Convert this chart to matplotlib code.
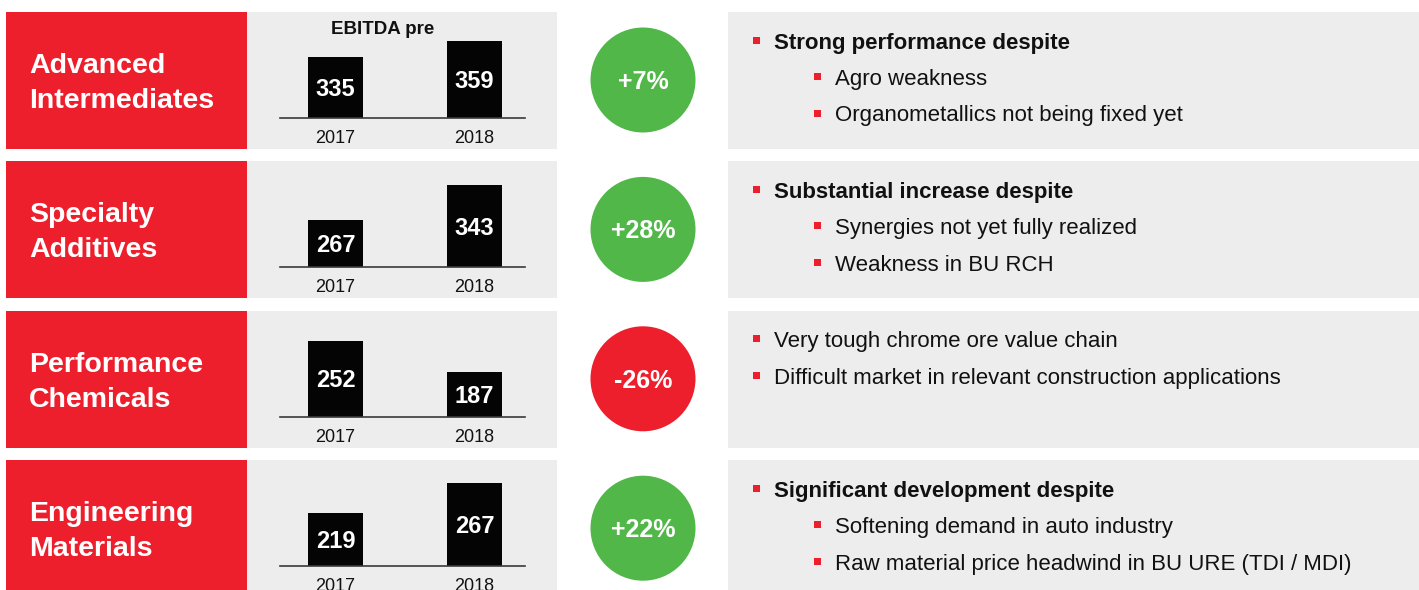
import matplotlib.pyplot as plt
from matplotlib.patches import Rectangle, Circle

plt.rcParams['font.family'] = ['Liberation Sans', 'DejaVu Sans']

segments = ['Advanced\nIntermediates', 'Specialty\nAdditives',
            'Performance\nChemicals', 'Engineering\nMaterials']
years = ['2017', '2018']
ebitda_2017 = [335, 267, 252, 219]
ebitda_2018 = [359, 343, 187, 267]
changes = ['+7%', '+28%', '-26%', '+22%']
headlines = ['Strong performance despite', 'Substantial increase despite',
             None, 'Significant development despite']
bullets = [
    ['Agro weakness', 'Organometallics not being fixed yet'],
    ['Synergies not yet fully realized', 'Weakness in BU RCH'],
    ['Very tough chrome ore value chain',
     'Difficult market in relevant construction applications'],
    ['Softening demand in auto industry',
     'Raw material price headwind in BU URE (TDI / MDI)'],
]

# each row's bar chart has its own cut-off baseline, like in the slide
axis_floor = [243, 165, 93, 134]
axis_ceil = [402, 395, 315, 304]

RED = '#EE1F2D'
GRAY = '#ECEDEC'
GREEN = '#50B748'
BLACK = '#040404'

W, H = 1419, 590
fig = plt.figure(figsize=(W / 100, H / 100), dpi=100, facecolor='white')
ax = fig.add_axes([0, 0, 1, 1])
ax.set_xlim(0, W)
ax.set_ylim(H, 0)
ax.axis('off')

# va='center' sits a bit high for caps, nudge text down a few px
dy = 3
row_h = 137
for i in range(4):
    top = 12 + i * 149.4
    mid = top + row_h / 2

    # left red label box + gray chart panel + gray text panel
    ax.add_patch(Rectangle((6, top), 241, row_h, color=RED, lw=0))
    ax.add_patch(Rectangle((247, top), 310, row_h, color=GRAY, lw=0))
    ax.add_patch(Rectangle((728, top), 700, row_h, color=GRAY, lw=0))

    for k, line in enumerate(segments[i].split('\n')):
        ax.text(29, mid - 17.5 + 35 * k + dy, line, color='white',
                fontsize=20.5, fontweight='bold', ha='left', va='center')

    # change bubble
    col = RED if changes[i].startswith('-') else GREEN
    ax.add_patch(Circle((643, mid - 0.5), 52.5, color=col, lw=0))
    ax.text(643, mid + 1.5, changes[i], color='white', fontsize=18,
            fontweight='bold', ha='center', va='center')

    # bullet text
    lines = []
    if headlines[i] is not None:
        lines.append((0, headlines[i], 'bold'))
        lines += [(1, b, 'normal') for b in bullets[i]]
    else:
        lines += [(0, b, 'normal') for b in bullets[i]]
    for k, (lvl, txt, wt) in enumerate(lines):
        yc = top + 28 + 36.5 * k
        bx = 753 + 61 * lvl
        ax.add_patch(Rectangle((bx, yc - 3.5), 6.5, 7, color=RED, lw=0))
        ax.text(bx + 21, yc + dy, txt, color='#111111', fontsize=16,
                fontweight=wt, ha='left', va='center')

    # bar chart
    base = top + 106
    bax = fig.add_axes([280 / W, 1 - base / H, 245 / W, 106 / H])
    bax.set_facecolor('none')
    vals = [ebitda_2017[i], ebitda_2018[i]]
    bax.bar([0, 1], vals, width=0.396, color=BLACK)
    bax.set_xlim(-0.4, 1.363)
    bax.set_ylim(axis_floor[i], axis_ceil[i])
    for s in ['top', 'left', 'right']:
        bax.spines[s].set_visible(False)
    bax.spines['bottom'].set_color('#3a3a3a')
    bax.spines['bottom'].set_linewidth(1.2)
    bax.set_yticks([])
    bax.set_xticks([0, 1], years, fontsize=13, color='#111111')
    bax.tick_params(axis='x', length=0, pad=8.5)
    for j, v in enumerate(vals):
        bax.annotate(str(v), (j, (axis_floor[i] + v) / 2),
                     xytext=(0, -1.5), textcoords='offset points',
                     color='white', fontsize=17, fontweight='bold',
                     ha='center', va='center')

ax.text(383, 27 + dy, 'EBITDA pre', color='#111111', fontsize=13.5,
        fontweight='bold', ha='center', va='center')

fig.savefig('out.png', dpi=100, facecolor='white')
